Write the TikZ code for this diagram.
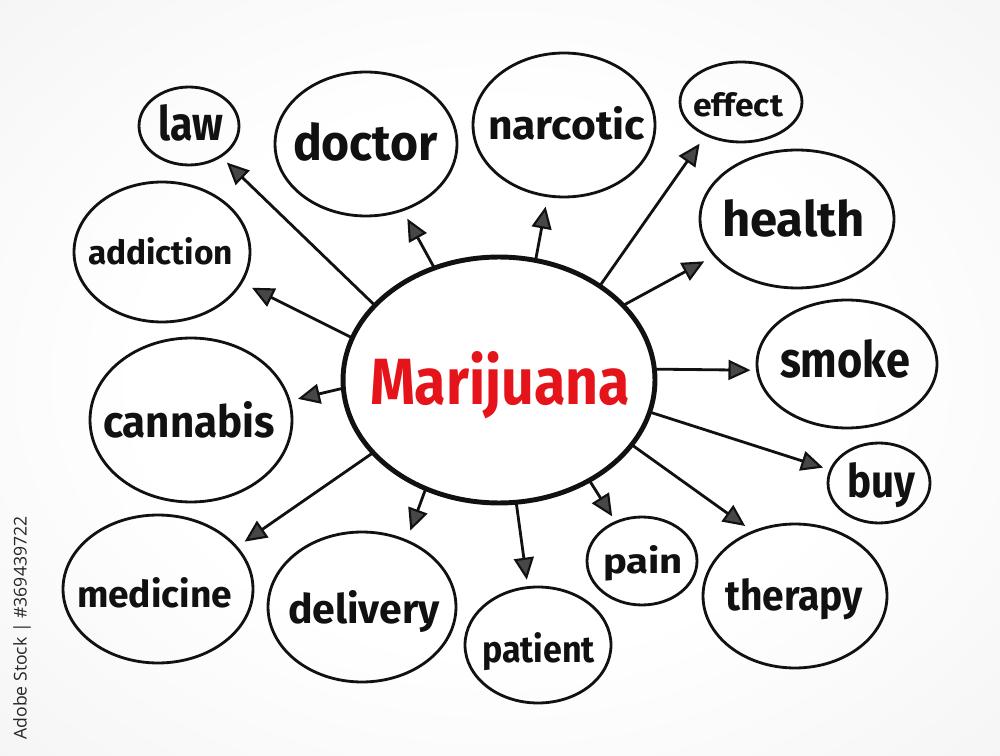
\documentclass[tikz,border=0pt]{standalone}
\usepackage{fontspec}
\setmainfont{Fira Sans}
\newfontfamily\wmfont{Open Sans}
\usetikzlibrary{shapes.geometric, arrows.meta}
\definecolor{mjred}{HTML}{E5141B}
\definecolor{ink}{HTML}{111111}
\pgfdeclareradialshading{bgshade}{\pgfpoint{0bp}{0bp}}{color(0bp)=(white); color(18bp)=(white); color(50bp)=(black!7); color(72bp)=(black!13)}
\newcommand\wrdbox[3]{\resizebox{#1cm}{#2cm}{#3}}
\begin{document}
\begin{tikzpicture}[x=0.02cm, y=-0.02cm,
  bub/.style={ellipse, draw=ink, line width=1.6pt, inner sep=0pt, outer sep=0pt},
  hub/.style={ellipse, draw=ink, line width=2.8pt, inner sep=0pt, outer sep=0pt},
  wordlbl/.style={anchor=base, inner sep=0pt, outer sep=0pt, text=ink, font=\bfseries},
  arr/.style={draw=ink, line width=1.6pt, -{Triangle[length=0.44cm, width=0.4cm, fill=black!72, line width=1.2pt]}}]
\useasboundingbox (0,0) rectangle (1000,756);
\shade[shading=bgshade] (0,0) rectangle (1000,756);

% watermark
\node[rotate=90, inner sep=0pt, text=black!85] (wm) at (22,628) {\resizebox{4.46cm}{!}{\wmfont Adobe Stock | \#369439722}};

% hub
\node[hub, minimum width=6.24cm, minimum height=4.92cm] (m) at (499,380) {};
\node[wordlbl, text=mjred] (mt) at (500,405) {\wrdbox{5.20}{1.06}{Marijuana}};

% bubbles
\node[bub, minimum width=2.00cm, minimum height=1.56cm] (law) at (189,126) {};
\node[bub, minimum width=3.64cm, minimum height=2.88cm] (doctor) at (366,144) {};
\node[bub, minimum width=3.52cm, minimum height=2.80cm] (addiction) at (162,252) {};
\node[bub, minimum width=3.64cm, minimum height=2.88cm] (narcotic) at (564,125) {};
\node[bub, minimum width=2.44cm, minimum height=1.60cm] (effect) at (741,102) {};
\node[bub, minimum width=3.88cm, minimum height=2.76cm] (health) at (797,219) {};
\node[bub, minimum width=4.04cm, minimum height=3.28cm] (cannabis) at (191,420) {};
\node[bub, minimum width=3.80cm, minimum height=2.96cm] (medicine) at (158,589) {};
\node[bub, minimum width=3.60cm, minimum height=2.56cm] (smoke) at (847,364) {};
\node[bub, minimum width=2.04cm, minimum height=1.60cm] (buy) at (879,483) {};
\node[bub, minimum width=3.68cm, minimum height=2.88cm] (therapy) at (795,596) {};
\node[bub, minimum width=2.20cm, minimum height=1.76cm] (pain) at (642,561) {};
\node[bub, minimum width=3.76cm, minimum height=3.00cm] (delivery) at (362,607) {};
\node[bub, minimum width=2.92cm, minimum height=2.32cm] (patient) at (538,645) {};

% words
\node[wordlbl] (law-t) at (190.5,141) {\wrdbox{1.30}{0.72}{law}};
\node[wordlbl] (doctor-t) at (365.5,161) {\wrdbox{2.90}{0.76}{doctor}};
\node[wordlbl] (addiction-t) at (160.5,265) {\wrdbox{2.90}{0.54}{addiction}};
\node[wordlbl] (narcotic-t) at (566.5,140) {\wrdbox{3.14}{0.66}{narcotic}};
\node[wordlbl] (effect-t) at (738,117) {\wrdbox{1.80}{0.48}{effect}};
\node[wordlbl] (health-t) at (793.5,237) {\wrdbox{2.86}{0.74}{health}};
\node[wordlbl] (cannabis-t) at (189,438) {\wrdbox{3.44}{0.72}{cannabis}};
\node[wordlbl] (medicine-t) at (154.5,607) {\wrdbox{3.10}{0.60}{medicine}};
\node[wordlbl] (smoke-t) at (845,378) {\wrdbox{2.60}{0.76}{smoke}};
\node[wordlbl] (buy-t) at (881,498) {\wrdbox{1.36}{0.70}{buy}};
\node[wordlbl] (therapy-t) at (794,610) {\wrdbox{2.76}{0.64}{therapy}};
\node[wordlbl] (pain-t) at (643,573) {\wrdbox{1.60}{0.56}{pain}};
\node[wordlbl] (delivery-t) at (364,623) {\wrdbox{3.04}{0.66}{delivery}};
\node[wordlbl] (patient-t) at (538.5,662) {\wrdbox{2.26}{0.60}{patient}};

% arrows
\draw[arr, shorten >=0.18cm] (m.149) -- (law.-44);
\draw[arr, shorten >=0.20cm] (m.120) -- (doctor.-61);
\draw[arr, shorten >=0.22cm] (m.73) -- (narcotic.-103);
\draw[arr, shorten >=0.22cm] (m.43) -- (effect.223);
\draw[arr, shorten >=0.24cm] (m.31) -- (health.204);
\draw[arr, shorten >=0.14cm] (m.4) -- (smoke.184);
\draw[arr, shorten >=0.16cm] (m.-12) -- (buy.165);
\draw[arr, shorten >=0.20cm] (m.-26) -- (therapy.123);
\draw[arr, shorten >=0.14cm] (m.-48) -- (pain.124);
\draw[arr, shorten >=0.16cm] (m.-82) -- (patient.100);
\draw[arr, shorten >=0.22cm] (m.-124) -- (delivery.56);
\draw[arr, shorten >=0.20cm] (m.-150) -- (medicine.28);
\draw[arr, shorten >=0.18cm] (m.183) -- (cannabis.11);
\draw[arr, shorten >=0.24cm] (m.164) -- (addiction.-21);
\end{tikzpicture}
\end{document}
